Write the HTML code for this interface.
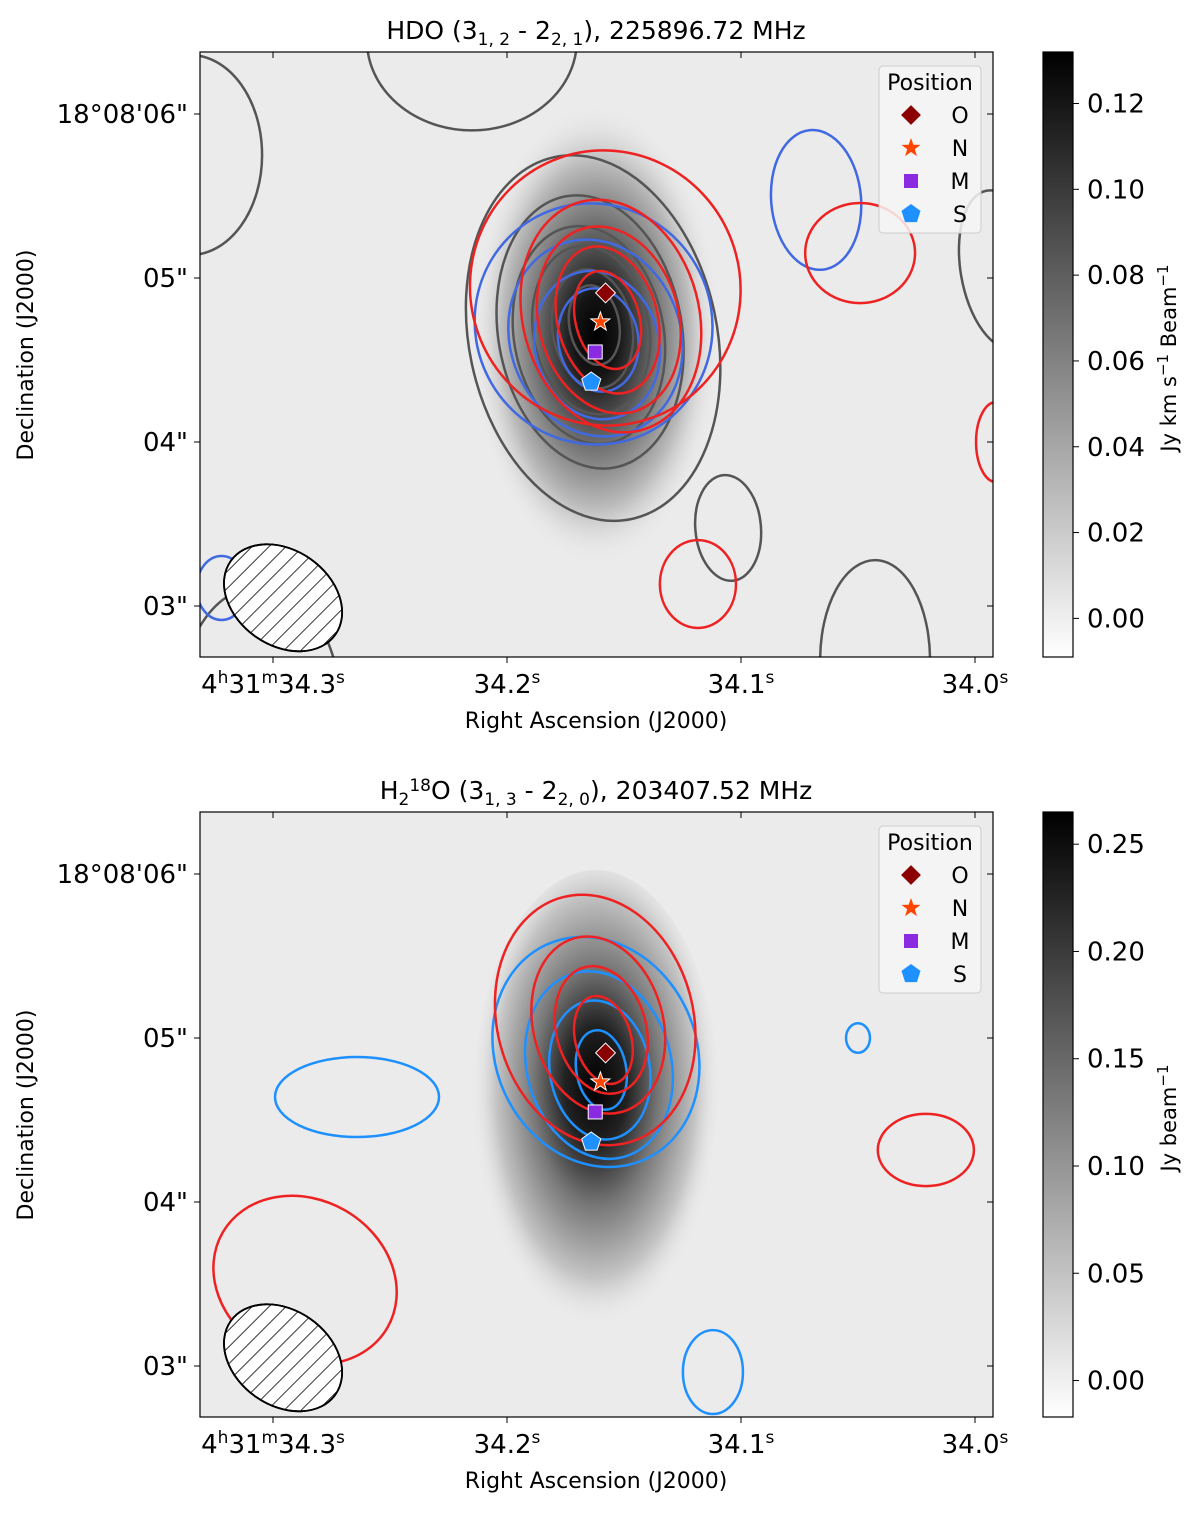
<!DOCTYPE html>
<html><head><meta charset="utf-8"><style>
body{margin:0;background:#fff;width:1200px;height:1509px;overflow:hidden}
svg{font-family:"DejaVu Sans","Liberation Sans",sans-serif}
</style></head><body>
<svg id="fig" width="1200" height="1509" viewBox="0 0 1200 1509" xmlns="http://www.w3.org/2000/svg">
<defs>
<radialGradient id="blobTop" cx="0.5" cy="0.5" r="0.5">
<stop offset="0" stop-color="#000"/><stop offset="0.18" stop-color="#151515"/><stop offset="0.45" stop-color="#666"/><stop offset="0.75" stop-color="#bbb"/><stop offset="1" stop-color="#ebebeb" stop-opacity="0"/>
</radialGradient>
<radialGradient id="blobBot" cx="0.5" cy="0.45" r="0.5">
<stop offset="0" stop-color="#000"/><stop offset="0.25" stop-color="#222"/><stop offset="0.5" stop-color="#777"/><stop offset="0.8" stop-color="#c4c4c4"/><stop offset="1" stop-color="#ebebeb" stop-opacity="0"/>
</radialGradient>
<linearGradient id="cbar" x1="0" y1="0" x2="0" y2="1"><stop offset="0" stop-color="#000"/><stop offset="1" stop-color="#fff"/></linearGradient>
<pattern id="hatch" width="12" height="12" patternUnits="userSpaceOnUse" patternTransform="rotate(10)"><line x1="0" y1="0" x2="0" y2="12" stroke="#000" stroke-width="1.6"/></pattern>
<clipPath id="clipTop"><rect x="200" y="52" width="793" height="605"/></clipPath>
<clipPath id="clipBot"><rect x="200" y="812" width="793" height="605"/></clipPath>
</defs>
<g id="root"></g>
</svg>
<script>
// ---- data ----
const raTicks = [34.3, 34.2, 34.1, 34.0];
const raTickLabels = ["4h31m34.3s","34.2s","34.1s","34.0s"];
const decTicks = [6, 5, 4, 3];
const decTickLabels = ['18°08\'06"','05"','04"','03"'];
const markerNames = ["O","N","M","S"];
const markerRA = [34.1579, 34.1601, 34.1623, 34.1640];
const markerDec = [4.909, 4.732, 4.549, 4.366];
const cbTopTicks = [0.00,0.02,0.04,0.06,0.08,0.10,0.12];
const cbBotTicks = [0.00,0.05,0.10,0.15,0.20,0.25];
// contours: [ra, dec, semiRA_arcsec, semiDec_arcsec, angleDeg]
const topGray = [[34.1632,4.634,0.756,1.128,-12],[34.1645,4.671,0.56,0.84,-10],[34.1650,4.652,0.457,0.67,-10],[34.1640,4.683,0.354,0.518,-10],[34.1635,4.690,0.244,0.366,-10],[34.1627,4.713,0.152,0.244,-10],
 [34.1055,3.476,0.2,0.323,-5],[34.3355,5.75,0.44,0.61,0],[34.215,6.45,0.64,0.55,0],[33.989,5.05,0.244,0.49,-10],[34.0427,2.67,0.335,0.61,0],[34.3056,2.39,0.49,0.73,0]];
const topRed = [[34.1580,4.939,0.823,0.841,-20],[34.1556,4.768,0.537,0.72,-15],[34.1565,4.744,0.427,0.579,-15],[34.1570,4.744,0.305,0.457,-15],[34.1570,4.744,0.195,0.305,-15],
 [34.0491,5.152,0.335,0.305,0],[34.1184,3.134,0.232,0.268,0],[33.9910,4.0,0.122,0.244,0]];
const topBlue = [[34.1630,4.720,0.72,0.74,-30],[34.1622,4.634,0.52,0.61,-20],[34.1615,4.591,0.378,0.457,-15],[34.1610,4.622,0.244,0.317,-10],
 [34.0679,5.476,0.274,0.427,-5],[34.3220,3.110,0.152,0.195,0]];
const botRed = [[34.1623,5.110,0.598,0.774,-15],[34.1610,5.079,0.396,0.549,-15],[34.1597,5.049,0.274,0.396,-15],[34.1588,4.988,0.17,0.274,-15],
 [34.0210,4.317,0.293,0.22,0],[34.2863,3.524,0.58,0.49,30]];
const botBlue = [[34.1620,4.915,0.61,0.72,-25],[34.1607,4.835,0.44,0.58,-15],[34.1603,4.805,0.305,0.427,-10],[34.1597,4.805,0.152,0.244,-10],
 [34.2641,4.640,0.5,0.244,0],[34.0500,5.0,0.073,0.09,0],[34.1120,2.963,0.183,0.256,0]];
const beam = [34.2957, 3.05, 0.39, 0.29, 35];
// ---- scales ----
const PX_RA = 2340, PX_AS = 164;
function xS(ra){return 507 + (34.2 - ra)*PX_RA;}
function yS(dec, off){return 278 - (dec-5)*PX_AS + off;}
const NS="http://www.w3.org/2000/svg";
const root=document.getElementById('root');
function mk(tag, attrs, parent){const e=document.createElementNS(NS,tag);for(const k in attrs)e.setAttribute(k,attrs[k]);(parent||root).appendChild(e);return e;}

function panel(off, title, grad, blob, gray, red, blue, blueCol, cbTicks, cbMax, cbMin, cbLabel, id){
  const g=mk('g',{});
  
  
  const T=52+off, B=657+off;
  const bg=mk('rect',{x:200,y:T,width:793,height:605,fill:'#ebebeb'},g);
  
  
  const cg=mk('g',{'clip-path':'url(#'+(off?'clipBot':'clipTop')+')'},g);
  mk('ellipse',{cx:blob[0],cy:blob[1]+off,rx:blob[2],ry:blob[3],fill:'url(#'+grad+')'},cg);
  function drawSet(arr,col,name){
    arr.forEach((c,i)=>{
      const cx=xS(c[0]), cy=yS(c[1],off);
      const e=mk('ellipse',{cx:cx,cy:cy,rx:c[2]*PX_AS,ry:c[3]*PX_AS,fill:'none',stroke:col,'stroke-width':2.5,transform:'rotate('+c[4]+' '+cx+' '+cy+')'},cg);
      
      
    });
  }
  if(gray) drawSet(gray,'#555','continuum');
  drawSet(blue,blueCol,'blue');
  drawSet(red,'#ee2222','red');
  const bx=xS(beam[0]), by=yS(beam[1],off);
  const be=mk('ellipse',{cx:bx,cy:by,rx:beam[2]*PX_AS,ry:beam[3]*PX_AS,fill:'#fff',stroke:'#000','stroke-width':1.8,transform:'rotate('+beam[4]+' '+bx+' '+by+')'},cg);
  
  
  mk('ellipse',{cx:bx,cy:by,rx:beam[2]*PX_AS,ry:beam[3]*PX_AS,fill:'url(#hatch)',stroke:'#000','stroke-width':1.8,transform:'rotate('+beam[4]+' '+bx+' '+by+')'},cg);
  markerNames.forEach((n,i)=>{
    const m=marker(n, xS(markerRA[i]), yS(markerDec[i],off), g, 1);
    
    
  });
  mk('rect',{x:200,y:T,width:793,height:605,fill:'none',stroke:'#000','stroke-width':1.2},g);
  raTicks.forEach((r,i)=>{
    const x=xS(r);
    mk('line',{x1:x,x2:x,y1:B,y2:B+6,stroke:'#000'},g);
    mk('line',{x1:x,x2:x,y1:T,y2:T+6,stroke:'#000'},g);
    const t=mk('text',{x:x,y:B+36,'font-size':26,'text-anchor':'middle'},g);
    
    
    const lab=raTickLabels[i];
    if(i===0){t.innerHTML='4<tspan dy="-10" font-size="17">h</tspan><tspan dy="10">31</tspan><tspan dy="-10" font-size="17">m</tspan><tspan dy="10">34.3</tspan><tspan dy="-10" font-size="17">s</tspan>';}
    else{t.innerHTML=lab.slice(0,-1)+'<tspan dy="-10" font-size="17">s</tspan>';}
  });
  decTicks.forEach((d,i)=>{
    const y=yS(d,off);
    mk('line',{x1:194,x2:200,y1:y,y2:y,stroke:'#000'},g);
    mk('line',{x1:993,x2:987,y1:y,y2:y,stroke:'#000'},g);
    const t=mk('text',{x:188,y:y+9,'font-size':26,'text-anchor':'end'},g);
    t.textContent=decTickLabels[i];
    
    
  });
  const xt=mk('text',{x:596,y:B+71,'font-size':22,'text-anchor':'middle'},g);
  xt.textContent='Right Ascension (J2000)';
  
  
  const yt=mk('text',{x:33,y:355+off,'font-size':22,'text-anchor':'middle',transform:'rotate(-90 33 '+(355+off)+')'},g);
  yt.textContent='Declination (J2000)';
  
  
  const tt=mk('text',{x:596,y:T-13,'font-size':25,'text-anchor':'middle'},g);
  tt.innerHTML=title;
  
  
  const lg=mk('g',{},g);
  
  
  mk('rect',{x:879,y:T+14,width:102,height:167,rx:4,fill:'#f6f6f6','fill-opacity':0.85,stroke:'#ccc'},lg);
  mk('text',{x:930,y:T+38,'font-size':22,'text-anchor':'middle'},lg).textContent='Position';
  markerNames.forEach((n,i)=>{
    const yy=T+63+i*33;
    marker(n,911,yy,lg,0);
    const t=mk('text',{x:960,y:yy+8,'font-size':22,'text-anchor':'middle'},lg);
    t.textContent=n;
    
    
  });
  const cb=mk('g',{},g);
  
  
  mk('rect',{x:1043,y:T,width:30,height:605,fill:'url(#cbar)',stroke:'#000','stroke-width':1.2},cb);
  const cy=v=>B-(v-cbMin)/(cbMax-cbMin)*605;
  cbTicks.forEach(v=>{
    const y=cy(v);
    mk('line',{x1:1073,x2:1079,y1:y,y2:y,stroke:'#000'},cb);
    const t=mk('text',{x:1087,y:y+9,'font-size':26},cb);
    t.textContent=v.toFixed(2);
    
    
  });
  const cl=mk('text',{x:1176,y:358+off,'font-size':21,'text-anchor':'middle',transform:'rotate(-90 1176 '+(358+off)+')'},cb);
  cl.innerHTML=cbLabel;
  
  
}
function marker(n,x,y,parent,outline){
  const s=outline?'#fff':'none', sw=outline?1:0;
  if(n==='O') return mk('rect',{x:x-7,y:y-7,width:14,height:14,fill:'#8b0000',stroke:s,'stroke-width':sw,transform:'rotate(45 '+x+' '+y+')'},parent);
  if(n==='N'){let p='';for(let k=0;k<10;k++){const r=k%2?4:10,a=-Math.PI/2+k*Math.PI/5;p+=(x+r*Math.cos(a)).toFixed(1)+','+(y+r*Math.sin(a)).toFixed(1)+' ';}return mk('polygon',{points:p,fill:'#ff4500',stroke:s,'stroke-width':sw},parent);}
  if(n==='M') return mk('rect',{x:x-7,y:y-7,width:14,height:14,fill:'#8a2be2',stroke:s,'stroke-width':sw},parent);
  let p='';for(let k=0;k<5;k++){const a=-Math.PI/2+k*2*Math.PI/5;p+=(x+10*Math.cos(a)).toFixed(1)+','+(y+10*Math.sin(a)).toFixed(1)+' ';}
  return mk('polygon',{points:p,fill:'#1e90ff',stroke:s,'stroke-width':sw},parent);
}
panel(0,'HDO (3<tspan dy="6" font-size="17">1, 2</tspan><tspan dy="-6"> - 2</tspan><tspan dy="6" font-size="17">2, 1</tspan><tspan dy="-6">), 225896.72 MHz</tspan>','blobTop',[596,335,125,230],topGray,topRed,topBlue,'#4169e1',cbTopTicks,0.132,-0.009,'Jy km s<tspan dy="-8" font-size="15">−1</tspan><tspan dy="8"> Beam</tspan><tspan dy="-8" font-size="15">−1</tspan>','hdo');
panel(760,'H<tspan dy="6" font-size="17">2</tspan><tspan dy="-14" font-size="17">18</tspan><tspan dy="8">O (3</tspan><tspan dy="6" font-size="17">1, 3</tspan><tspan dy="-6"> - 2</tspan><tspan dy="6" font-size="17">2, 0</tspan><tspan dy="-6">), 203407.52 MHz</tspan>','blobBot',[596,350,125,240],null,botRed,botBlue,'#1e90ff',cbBotTicks,0.265,-0.017,'Jy beam<tspan dy="-8" font-size="15">−1</tspan>','h218o');
</script>
</body></html>
